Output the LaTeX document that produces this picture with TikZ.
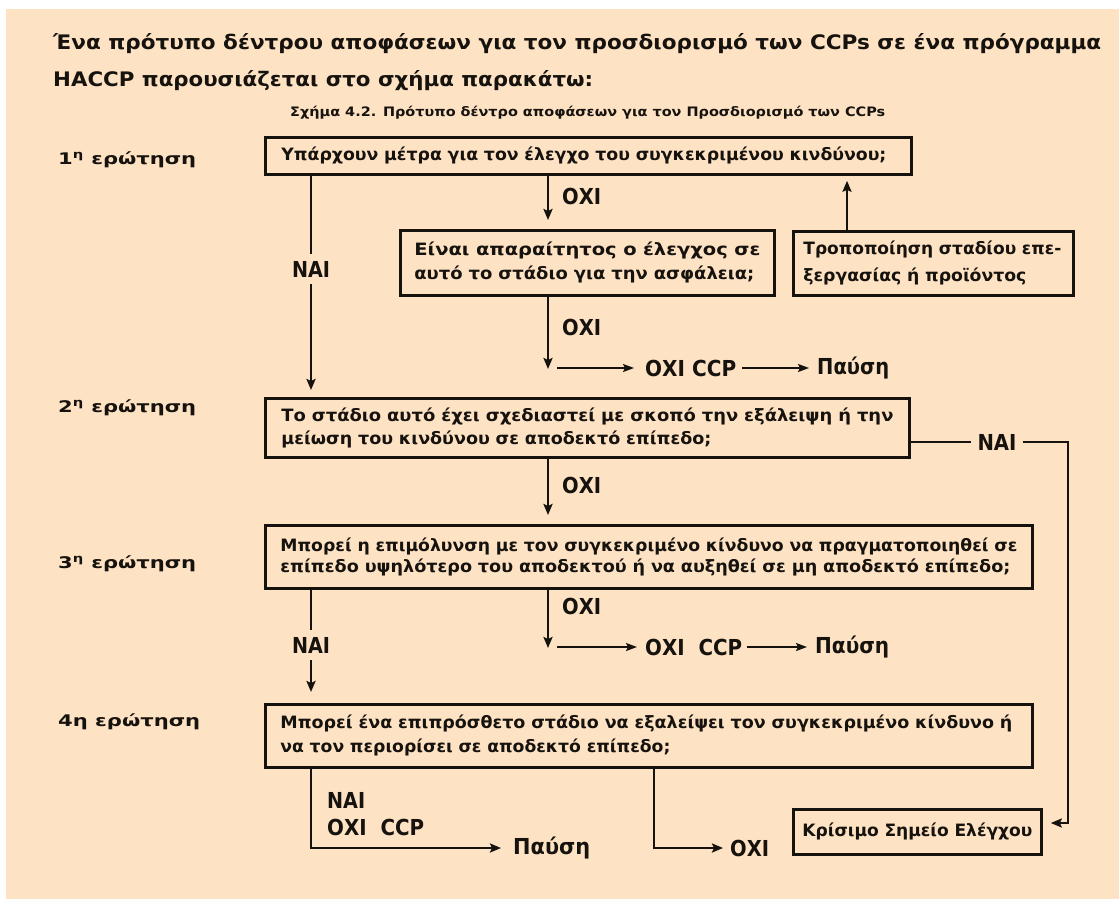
\documentclass[tikz,border=0pt]{standalone}
\usepackage{fontspec}
\setmainfont{DejaVu Sans}
\usepackage{graphicx}
\usetikzlibrary{arrows.meta}
\definecolor{peach}{RGB}{254,226,196}
\definecolor{ink}{RGB}{22,18,14}
\newsavebox\fitbox
\newlength\fitlen
\newcommand\wfit[2]{\sbox\fitbox{#2}\setlength\fitlen{\wd\fitbox}\pgfmathsetmacro\fitr{#1/\fitlen}\scalebox{\fitr}[1]{\usebox\fitbox}}
\tikzset{
  ln/.style={draw=ink, line width=2.6pt},
  arr/.style={ln, -{Stealth[length=11pt,width=9pt,inset=2pt]}},
  harr/.style={draw=ink, line width=1.8pt, -{Stealth[length=11pt,width=8pt,inset=2pt]}},
  qbox/.style={draw=ink, line width=2.8pt, anchor=north west, inner sep=0pt, align=left, text=ink, font=\bfseries\fontsize{17}{24}\selectfont},
  lab/.style={text=ink, inner sep=2pt, font=\bfseries\fontsize{22}{24}\selectfont},
  gaplab/.style={lab, fill=peach, inner xsep=6pt, inner ysep=7pt},
  qlab/.style={text=ink, inner sep=0pt, anchor=west, font=\bfseries\fontsize{16}{18}\selectfont},
  ttl/.style={text=ink, inner sep=0pt, anchor=west, font=\bfseries\fontsize{20}{24}\selectfont},
  capt/.style={text=ink, inner sep=0pt, anchor=west, font=\bfseries\fontsize{13}{15}\selectfont},
}
\begin{document}
\begin{tikzpicture}[x=1pt,y=-1pt]
\useasboundingbox (0,0) rectangle (1119,899);
\fill[white] (0,0) rectangle (1119,899);
\fill[peach] (6,9) rectangle (1119,899);

% title
\node[ttl] (t1) at (53,44) {\wfit{1048}{Ένα πρότυπο δέντρου αποφάσεων για τον προσδιορισμό των CCPs σε ένα πρόγραμμα}};
\node[ttl] (t2) at (53,81) {\wfit{540}{HACCP παρουσιάζεται στο σχήμα παρακάτω:}};
\node[capt] (cap) at (290,113) {\wfit{595}{Σχήμα 4.2. Πρότυπο δέντρο αποφάσεων για τον Προσδιορισμό των CCPs}};

% question labels
\node[qlab] (q1) at (58,160) {\wfit{138}{1\textsuperscript{η} ερώτηση}};
\node[qlab] (q2) at (58,408) {\wfit{138}{2\textsuperscript{η} ερώτηση}};
\node[qlab] (q3) at (58,564) {\wfit{138}{3\textsuperscript{η} ερώτηση}};
\node[qlab] (q4) at (58,722) {\wfit{142}{4η ερώτηση}};

% boxes
\node[qbox, minimum width=646pt, minimum height=37pt, text width=614pt] (b1) at (264,136)
  {\wfit{605}{Υπάρχουν μέτρα για τον έλεγχο του συγκεκριμένου κινδύνου;}};
\node[qbox, minimum width=374pt, minimum height=65pt, text width=346pt] (b2) at (399,229)
  {\wfit{346}{Είναι απαραίτητος ο έλεγχος σε}\\\wfit{340}{αυτό το στάδιο για την ασφάλεια;}};
\node[qbox, minimum width=280pt, minimum height=64pt, text width=260pt, font=\bfseries\fontsize{17}{27}\selectfont] (b3) at (792,230)
  {\wfit{258}{Τροποποίηση σταδίου επε-}\\\wfit{223}{ξεργασίας ή προϊόντος}};
\node[qbox, minimum width=644pt, minimum height=59pt, text width=612pt, font=\bfseries\fontsize{17}{23}\selectfont] (b4) at (264,397)
  {\wfit{612}{Το στάδιο αυτό έχει σχεδιαστεί με σκοπό την εξάλειψη ή την}\\\wfit{430}{μείωση του κινδύνου σε αποδεκτό επίπεδο;}};
\node[qbox, minimum width=767pt, minimum height=63pt, text width=737pt, font=\bfseries\fontsize{17}{21}\selectfont] (b5) at (264,524)
  {\wfit{737}{Μπορεί η επιμόλυνση με τον συγκεκριμένο κίνδυνο να πραγματοποιηθεί σε}\\\wfit{730}{επίπεδο υψηλότερο του αποδεκτού ή να αυξηθεί σε μη αποδεκτό επίπεδο;}};
\node[qbox, minimum width=767pt, minimum height=63pt, text width=737pt] (b6) at (264,703)
  {\wfit{732}{Μπορεί ένα επιπρόσθετο στάδιο να εξαλείψει τον συγκεκριμένο κίνδυνο ή}\\\wfit{390}{να τον περιορίσει σε αποδεκτό επίπεδο;}};
\node[qbox, minimum width=248pt, minimum height=45pt, text width=230pt] (b7) at (792,808)
  {\wfit{230}{Κρίσιμο Σημείο Ελέγχου}};

% column coordinates
\coordinate (cA) at (311,0);
\coordinate (cB) at (548,0);
\coordinate (cC) at (847,0);

% question 1
\node[gaplab] (nai1) at (311,269) {\wfit{38}{ΝΑΙ}};
\draw[ln] (b1.south -| nai1) -- (nai1.north);
\draw[arr, shorten >=7pt] (nai1.south) -- (b4.north -| nai1);
\draw[arr, shorten >=9pt] (b1.south -| cB) -- (b2.north -| cB);
\node[lab, anchor=west] (oxi1) at (560,196) {\wfit{39}{ΟΧΙ}};
\draw[arr, shorten >=5pt] (b3.north -| cC) -- (b1.south -| cC);
\coordinate (j1) at (548,369);
\draw[arr] (b2.south -| j1) -- (j1);
\node[lab, anchor=west] (oxi2) at (560,327) {\wfit{39}{ΟΧΙ}};
\coordinate (h1) at (557,368);
\node[lab, anchor=west] (ccp1) at (643,368) {\wfit{91}{ΟΧΙ CCP}};
\node[lab, anchor=west] (stop1) at (815,368) {\wfit{72}{Παύση}};
\draw[harr, shorten >=9pt] (h1) -- (ccp1.west);
\draw[harr, shorten <=4pt, shorten >=6pt] (ccp1.east) -- (stop1.west);

% question 2
\node[gaplab] (nai2) at (997,442) {\wfit{39}{ΝΑΙ}};
\draw[ln] (b4.east |- nai2) -- (nai2.west);
\coordinate (c2a) at (1068,442);
\coordinate (c2b) at (1068,823);
\draw[arr, shorten >=8pt] (nai2.east) -- (c2a) -- (c2b) -- (b7.east |- c2b);
\draw[arr, shorten >=9pt] (b4.south -| cB) -- (b5.north -| cB);
\node[lab, anchor=west] (oxi3) at (560,485) {\wfit{39}{ΟΧΙ}};

% question 3
\node[gaplab] (nai3) at (311,645) {\wfit{38}{ΝΑΙ}};
\draw[ln] (b5.south -| nai3) -- (nai3.north);
\draw[arr, shorten >=11pt] (nai3.south) -- (b6.north -| nai3);
\coordinate (j2) at (548,648);
\draw[arr] (b5.south -| j2) -- (j2);
\node[lab, anchor=west] (oxi4) at (560,606) {\wfit{39}{ΟΧΙ}};
\coordinate (h2) at (557,647);
\node[lab, anchor=west] (ccp2) at (643,647) {\wfit{97}{ΟΧΙ\ \ CCP}};
\node[lab, anchor=west] (stop2) at (813,647) {\wfit{74}{Παύση}};
\draw[harr, shorten >=6pt] (h2) -- (ccp2.west);
\draw[harr, shorten <=3pt, shorten >=6pt] (ccp2.east) -- (stop2.west);

% question 4
\node[lab, anchor=west] (nai4) at (325,800) {\wfit{38}{ΝΑΙ}};
\node[lab, anchor=west] (ccp3) at (325,827) {\wfit{97}{ΟΧΙ\ \ CCP}};
\coordinate (k1) at (311,848);
\node[lab, anchor=west] (stop3) at (511,848) {\wfit{77}{Παύση}};
\draw[arr, shorten >=10pt] (b6.south -| k1) -- (k1) -- (stop3.west);
\coordinate (k2) at (654,848);
\node[lab, anchor=west] (oxi5) at (728,848) {\wfit{39}{ΟΧΙ}};
\draw[arr, shorten >=5pt] (b6.south -| k2) -- (k2) -- (oxi5.west);
\end{tikzpicture}
\end{document}
